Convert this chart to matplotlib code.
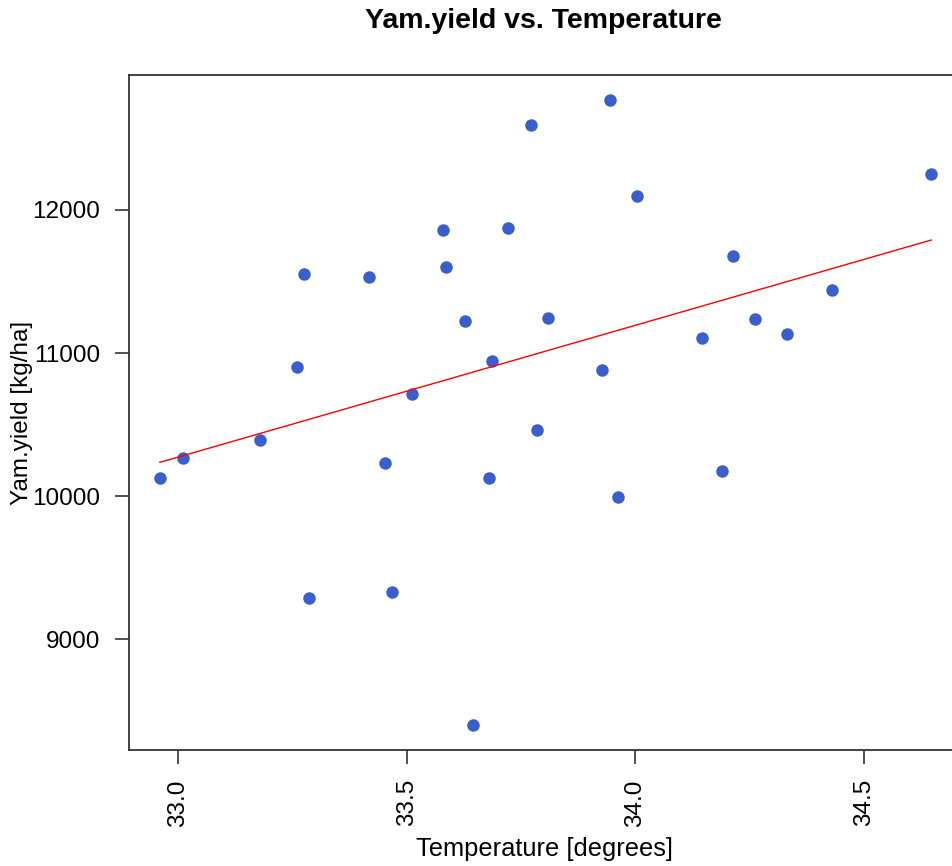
'''Yam yield against temperature, scatter with a least squares line'''

import numpy as np
import matplotlib
matplotlib.use('Agg')
from matplotlib.pyplot import figure, rcParams

temperature = [32.961, 33.011, 33.179, 33.260, 33.277, 33.286, 33.419, 33.452,
               33.469, 33.511, 33.579, 33.587, 33.627, 33.646, 33.679, 33.686,
               33.721, 33.771, 33.786, 33.810, 33.928, 33.945, 33.961, 34.004,
               34.146, 34.188, 34.214, 34.262, 34.330, 34.430, 34.646]
yam_yield = [10126, 10266, 10392, 10902, 11552, 9287, 11531, 10231,
             9329, 10713, 11860, 11601, 11224, 8399, 10126, 10944,
             11874, 12594, 10462, 11245, 10881, 12769, 9993, 12098,
             11105, 10175, 11678, 11238, 11133, 11441, 12252]
x_ticks = [33.0, 33.5, 34.0, 34.5]
y_ticks = [9000, 10000, 11000, 12000]

rcParams['font.family'] = ['Liberation Sans', 'DejaVu Sans']

W, H = 952, 866
x = np.array(temperature)
y = np.array(yam_yield)

fig = figure(figsize=(W/100, H/100), dpi=100)
# plot region runs past the right edge of the picture, as in the reference
left, right, top, bottom = 129, 962, 75, 750
ax = fig.add_axes([left/W, 1 - bottom/H, (right-left)/W, (bottom-top)/H])

ax.plot(x, y, 'o', color='#3a5fcd', markersize=9, markeredgewidth=0)
slope, intercept = np.polyfit(x, y, 1)
xs = np.sort(x)
ax.plot(xs, intercept + slope*xs, color='red', linewidth=1)

# R style 4% padding on data range
dx = 0.04*(x.max() - x.min())
dy = 0.04*(y.max() - y.min())
ax.set_xlim(x.min() - dx, x.max() + dx)
ax.set_ylim(y.min() - dy, y.max() + dy)

for s in ax.spines.values():
    s.set_color('#333333')
    s.set_linewidth(1.3)

ax.set_xticks(x_ticks)
ax.set_xticklabels([f'{t:.1f}' for t in x_ticks], rotation=90)
ax.set_yticks(y_ticks)
ax.set_yticklabels([str(t) for t in y_ticks])
ax.tick_params(length=10, width=1.2, color='#333333', labelsize=17.5, pad=11)

fig.text(545/W, 1 - 849/H, 'Temperature [degrees]', ha='center', va='center', fontsize=18.4)
fig.text(22/W, 1 - 413/H, 'Yam.yield [kg/ha]', ha='center', va='center',
         rotation=90, fontsize=17.5)
fig.text(543/W, 1 - 21/H, 'Yam.yield vs. Temperature', ha='center', va='center',
         fontsize=20.5, fontweight='bold')

fig.savefig('out.png', dpi=100)
